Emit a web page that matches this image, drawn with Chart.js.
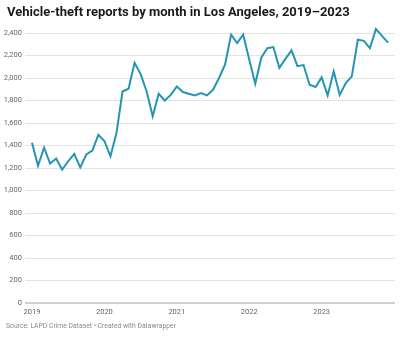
<!DOCTYPE html>
<html>
<head>
<meta charset="utf-8">
<script src="https://cdn.jsdelivr.net/npm/chart.js@4/dist/chart.umd.min.js"></script>
<style>
  html, body { margin: 0; padding: 0; background: #fff; }
  #wrap { position: relative; width: 400px; height: 340px; overflow: hidden; font-family: Roboto, "Noto Sans", sans-serif; }
  #title { position: absolute; left: 7px; top: 4px; font-size: 13px; font-weight: 700; color: #1a1a1a; white-space: nowrap; }
  #source { position: absolute; left: 6px; top: 322px; font-size: 6.8px; color: #8a8a8a; white-space: nowrap; }
  #c { position: absolute; left: 0; top: 0; }
</style>
</head>
<body>
<div id="wrap">
  <canvas id="c" width="400" height="340"></canvas>
  <div id="title">Vehicle-theft reports by month in Los Angeles, 2019–2023</div>
  <div id="source">Source: LAPD Crime Dataset • Created with Datawrapper</div>
</div>
<script>
// Years shown as x tick labels (one tick at each January)
const years = ['2019', '2020', '2021', '2022', '2023'];
// Monthly vehicle-theft reports, Jan 2019 – Dec 2023
const theftCounts = [
  1425, 1220, 1380, 1240, 1285, 1185, 1260, 1325, 1205, 1320, 1355, 1495,
  1440, 1305, 1510, 1880, 1905, 2135, 2035, 1880, 1660, 1860, 1800, 1850,
  1925, 1875, 1860, 1845, 1865, 1845, 1895, 2000, 2120, 2385, 2310, 2385,
  2165, 1950, 2180, 2265, 2275, 2090, 2170, 2245, 2105, 2115, 1940, 1920,
  2005, 1845, 2060, 1850, 1955, 2015, 2340, 2330, 2265, 2435, 2375, 2315
];
// Y axis ticks
const yTicks = [0, 200, 400, 600, 800, 1000, 1200, 1400, 1600, 1800, 2000, 2200, 2400];

const points = theftCounts.map((v, i) => ({ x: i, y: v }));

new Chart(document.getElementById('c'), {
  type: 'line',
  data: {
    datasets: [{
      data: points,
      borderColor: '#2595b3',
      borderWidth: 2,
      pointRadius: 0,
      tension: 0,
      fill: false,
      clip: false
    }]
  },
  options: {
    responsive: false,
    animation: false,
    events: [],
    layout: { padding: { top: 33, right: 5, left: 0, bottom: 0 } },
    plugins: { legend: { display: false }, tooltip: { enabled: false }, title: { display: false } },
    scales: {
      x: {
        type: 'linear',
        min: -1.16,
        max: 60.16,
        border: { display: false },
        grid: { display: false, drawTicks: false },
        afterBuildTicks: (s) => { s.ticks = years.map((y, i) => ({ value: i * 12 })); },
        afterFit: (s) => { s.height = 37; },
        ticks: {
          padding: 5,
          maxRotation: 0,
          color: '#666',
          font: { family: 'Roboto', size: 7.5 },
          callback: (v) => years[Math.round(v / 12)]
        }
      },
      y: {
        min: 0,
        max: 2400,
        border: { display: false },
        afterBuildTicks: (s) => { s.ticks = yTicks.map(v => ({ value: v })); },
        afterFit: (s) => { s.width = 25; },
        grid: {
          drawTicks: false,
          color: (ctx) => ctx.tick && ctx.tick.value === 0 ? '#cfcfcf' : '#e3e3e3',
          lineWidth: (ctx) => ctx.tick && ctx.tick.value === 0 ? 2 : 1
        },
        ticks: {
          padding: 3,
          color: '#666',
          font: { family: 'Roboto', size: 7.5 },
          callback: (v) => v.toLocaleString('en-US')
        }
      }
    }
  }
});
</script>
</body>
</html>
